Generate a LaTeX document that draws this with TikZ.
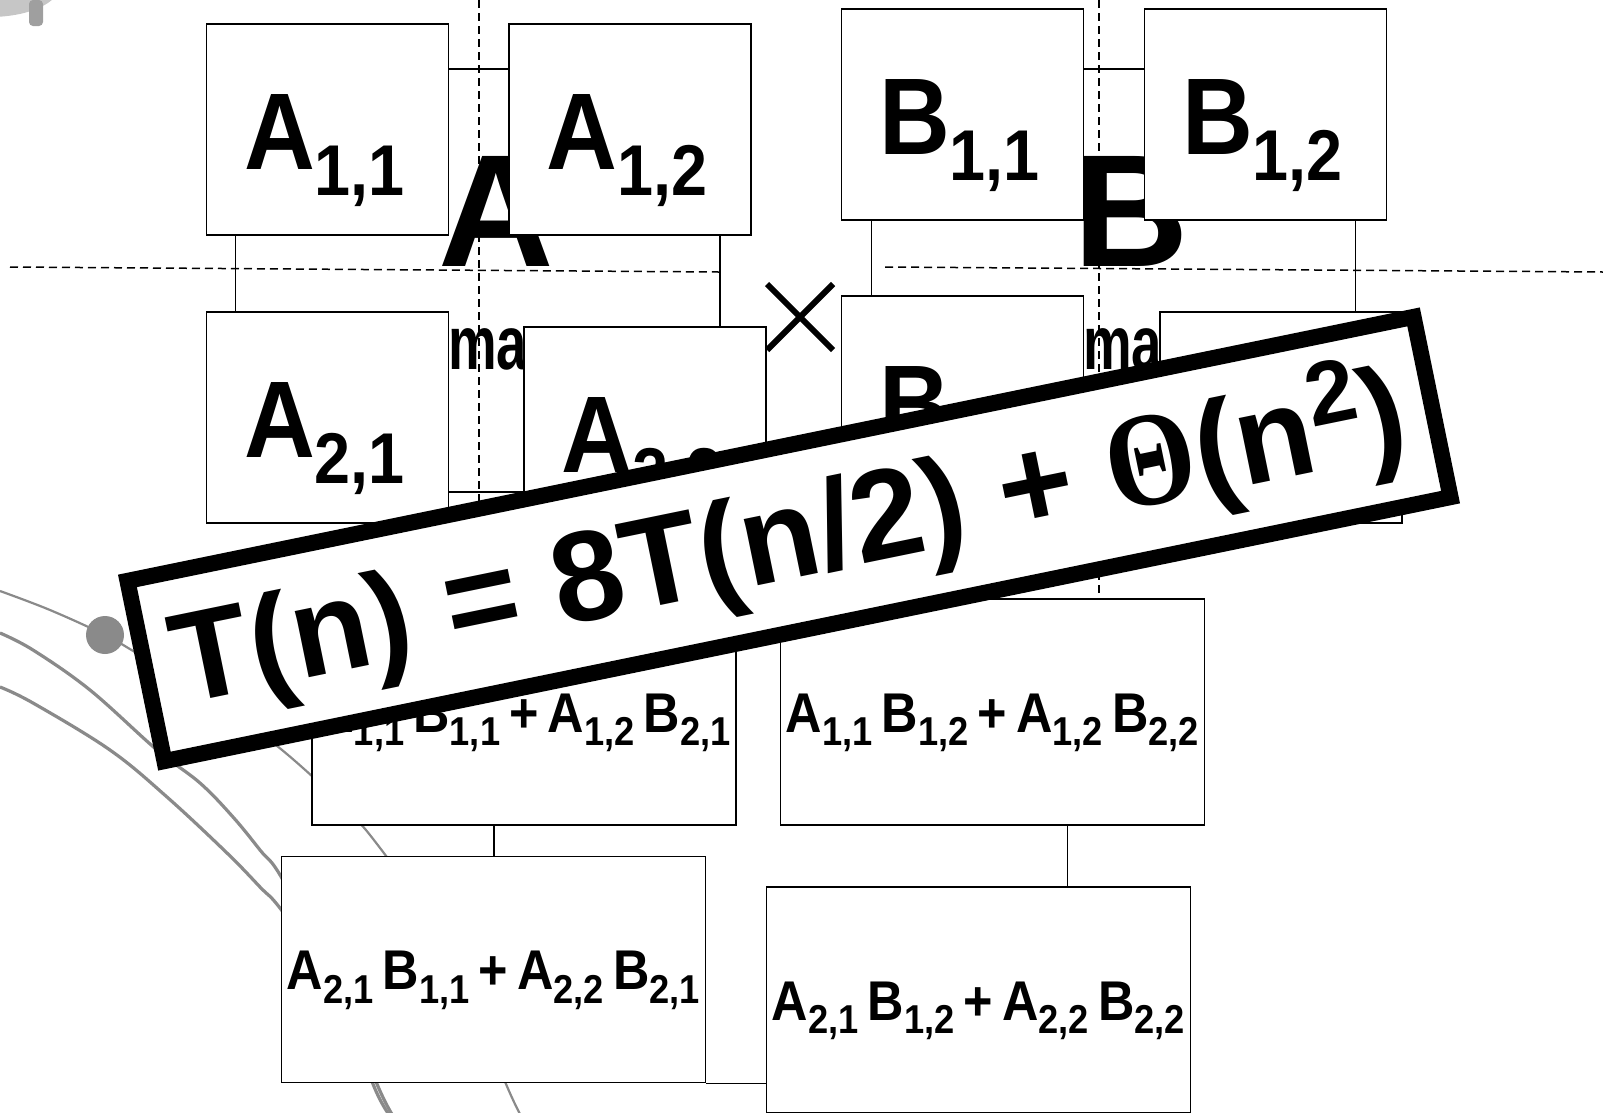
\documentclass[tikz,border=0pt]{standalone}
\usepackage{fontspec}
\setmainfont{Liberation Sans}
\newfontfamily\thetafont{Liberation Serif}
\usepackage{graphicx}
\definecolor{curvegray}{RGB}{138,138,138}
\newcommand{\msub}[1]{\raisebox{-0.24em}{\scalebox{0.66}{#1}}}
\newcommand{\csub}[1]{\raisebox{-0.24em}{\scalebox{0.72}{#1}}}
\newcommand{\csp}{\hspace{0.18em}}
\begin{document}
\begin{tikzpicture}[x=1pt,y=-1pt,
  mbox/.style={draw, line width=1.8pt, fill=white, inner sep=0pt, minimum width=242pt, minimum height=211pt},
  cbox/.style={draw, line width=1.8pt, fill=white, inner sep=0pt, minimum width=424pt, minimum height=226pt},
  conn/.style={line width=1.6pt},
  guide/.style={line width=1.5pt, dash pattern=on 8pt off 5pt},
  gthick/.style={draw=curvegray, line width=3.2pt},
  gthin/.style={draw=curvegray, line width=2.2pt},
  mlab/.style={inner sep=0pt, font=\bfseries\fontsize{109}{110}\selectfont},
  clab/.style={inner sep=0pt, font=\bfseries\fontsize{56}{60}\selectfont},
  biglab/.style={inner sep=0pt, font=\bfseries\fontsize{160}{160}\selectfont},
  malab/.style={inner sep=0pt, font=\bfseries\fontsize{76}{76}\selectfont},
  eqbox/.style={draw, line width=16pt, fill=white, inner sep=0pt, minimum width=1313pt, minimum height=184pt, font=\bfseries\fontsize{128}{130}\selectfont}
]
\useasboundingbox (0,0) rectangle (1603,1112);

% decorative gray objects
\fill[gray!45] (-10,-15) ellipse [x radius=70pt, y radius=32pt];
\fill[gray!75, rounded corners=4pt] (29,0) rectangle (43,26);
\draw[gthin] plot[smooth, tension=0.6] coordinates {(0,591) (50,610) (105,635) (140,655) (200,690) (267,738) (313,777) (343,807) (370,835) (420,905) (470,995) (506,1084) (521,1116)};
\draw[gthick] plot[smooth, tension=0.6] coordinates {(0,633) (33,650) (90,690) (157,750) (200,783) (233,817) (260,850) (283,880) (340,990) (373,1084) (390,1116)};
\draw[gthick] plot[smooth, tension=0.6] coordinates {(0,687) (33,703) (110,750) (167,797) (227,853) (260,887) (283,912) (345,1000) (377,1084) (393,1116)};
\fill[curvegray] (105,635) circle (19pt);

% dashed guides
\coordinate (gA1) at (10,267); \coordinate (gA2) at (719,272);
\coordinate (gB1) at (885,267); \coordinate (gB2) at (1603,272);
\coordinate (vA1) at (479,0); \coordinate (vA2) at (479,505);
\coordinate (vB1) at (1099,0); \coordinate (vB2) at (1099,599);
\draw[guide] (gA1) -- (gA2);
\draw[guide] (gB1) -- (gB2);
\draw[guide] (vA1) -- (vA2);
\draw[guide] (vB1) -- (vB2);

% big letters and partial labels
\node[biglab, anchor=base] (bigA) at (496,266) {A};
\node[biglab, anchor=base] (bigB) at (1131,266) {B};
\node[malab, anchor=base west] (maA) at (448,369) {\scalebox{0.72}[1]{ma}};
\node[malab, anchor=base west] (maB) at (1083,369) {\scalebox{0.72}[1]{ma}};

% block boxes
\node[mbox] (A11) at (327.5,129.5) {};
\node[mbox] (A12) at (630,129.5) {};
\node[mbox] (B11) at (962.5,114.5) {};
\node[mbox] (B12) at (1265.5,114.5) {};
\node[mbox] (A21) at (327.5,417.5) {};
\node[mbox] (A22) at (645,432.5) {};
\node[mbox] (B21) at (962.5,401.5) {};
\node[mbox] (B22) at (1281,417.5) {};

\node[mlab, xshift=-3pt, yshift=-21pt] (A11t) at (A11.center) {\scalebox{0.9}[1]{A\msub{1,1}}};
\node[mlab, xshift=-3pt, yshift=-21pt] (A12t) at (A12.center) {\scalebox{0.9}[1]{A\msub{1,2}}};
\node[mlab, xshift=-3pt, yshift=-21pt] (B11t) at (B11.center) {\scalebox{0.9}[1]{B\msub{1,1}}};
\node[mlab, xshift=-3pt, yshift=-21pt] (B12t) at (B12.center) {\scalebox{0.9}[1]{B\msub{1,2}}};
\node[mlab, xshift=-3pt, yshift=-21pt] (A21t) at (A21.center) {\scalebox{0.9}[1]{A\msub{2,1}}};
\node[mlab, xshift=-3pt, yshift=-21pt] (A22t) at (A22.center) {\scalebox{0.9}[1]{A\msub{2,2}}};
\node[mlab, xshift=-3pt, yshift=-21pt] (B21t) at (B21.center) {\scalebox{0.9}[1]{B\msub{2,1}}};
\node[mlab, xshift=-3pt, yshift=-21pt] (B22t) at (B22.center) {\scalebox{0.9}[1]{B\msub{2,2}}};

% result boxes
\node[cbox] (C11) at (524,712) {};
\node[cbox] (C12) at (992.5,712) {};
\node[cbox] (C21) at (493.5,969.5) {};
\node[cbox] (C22) at (978.5,1000) {};
\node[clab, yshift=-11pt] (C11t) at (C11.center) {\scalebox{0.9}[1]{A\csub{1,1}\csp B\csub{1,1}\csp+\csp A\csub{1,2}\csp B\csub{2,1}}};
\node[clab, yshift=-11pt] (C12t) at (C12.center) {\scalebox{0.9}[1]{A\csub{1,1}\csp B\csub{1,2}\csp+\csp A\csub{1,2}\csp B\csub{2,2}}};
\node[clab, yshift=-11pt] (C21t) at (C21.center) {\scalebox{0.9}[1]{A\csub{2,1}\csp B\csub{1,1}\csp+\csp A\csub{2,2}\csp B\csub{2,1}}};
\node[clab, yshift=-11pt] (C22t) at (C22.center) {\scalebox{0.9}[1]{A\csub{2,1}\csp B\csub{1,2}\csp+\csp A\csub{2,2}\csp B\csub{2,2}}};

% connectors
\coordinate (a1h) at ([yshift=-46pt]A11.north east);
\draw[conn] (a1h) -- (a1h -| A12.west);
\coordinate (b1h) at ([yshift=-61pt]B11.north east);
\draw[conn] (b1h) -- (b1h -| B12.west);
\coordinate (a1v) at ([xshift=30pt]A11.south west);
\draw[conn] (a1v) -- (a1v |- A21.north);
\coordinate (a2v) at ([xshift=212pt]A12.south west);
\draw[conn] (a2v) -- (a2v |- A22.north);
\coordinate (a2h) at ([yshift=-181pt]A21.north east);
\draw[conn] (a2h) -- (a2h -| A22.west);
\coordinate (b1v) at ([xshift=31pt]B11.south west);
\draw[conn] (b1v) -- (b1v |- B21.north);
\coordinate (b2v) at ([xshift=212pt]B12.south west);
\draw[conn] (b2v) -- (b2v |- B22.north);
\coordinate (c1v) at ([xshift=183pt]C11.south west);
\draw[conn] (c1v) -- (c1v |- C21.north);
\coordinate (c2v) at ([xshift=288pt]C12.south west);
\draw[conn] (c2v) -- (c2v |- C22.north);
\draw[conn] (C21.south east) -- (C21.south east -| C22.west);

% times sign
\coordinate (X) at (800,317);
\draw[line width=6pt] ([shift={(-33pt,33pt)}]X) -- ([shift={(33pt,-33pt)}]X);
\draw[line width=6pt] ([shift={(-33pt,-33pt)}]X) -- ([shift={(33pt,33pt)}]X);

% recurrence banner
\node[eqbox, rotate=11.6] (rec) at (789,539) {T(n) = 8T(n/2) + {\thetafont\bfseries\scalebox{0.9}[1.05]{Θ}}(n\raisebox{0.34em}{\scalebox{0.7}{2}})};
\end{tikzpicture}
\end{document}
